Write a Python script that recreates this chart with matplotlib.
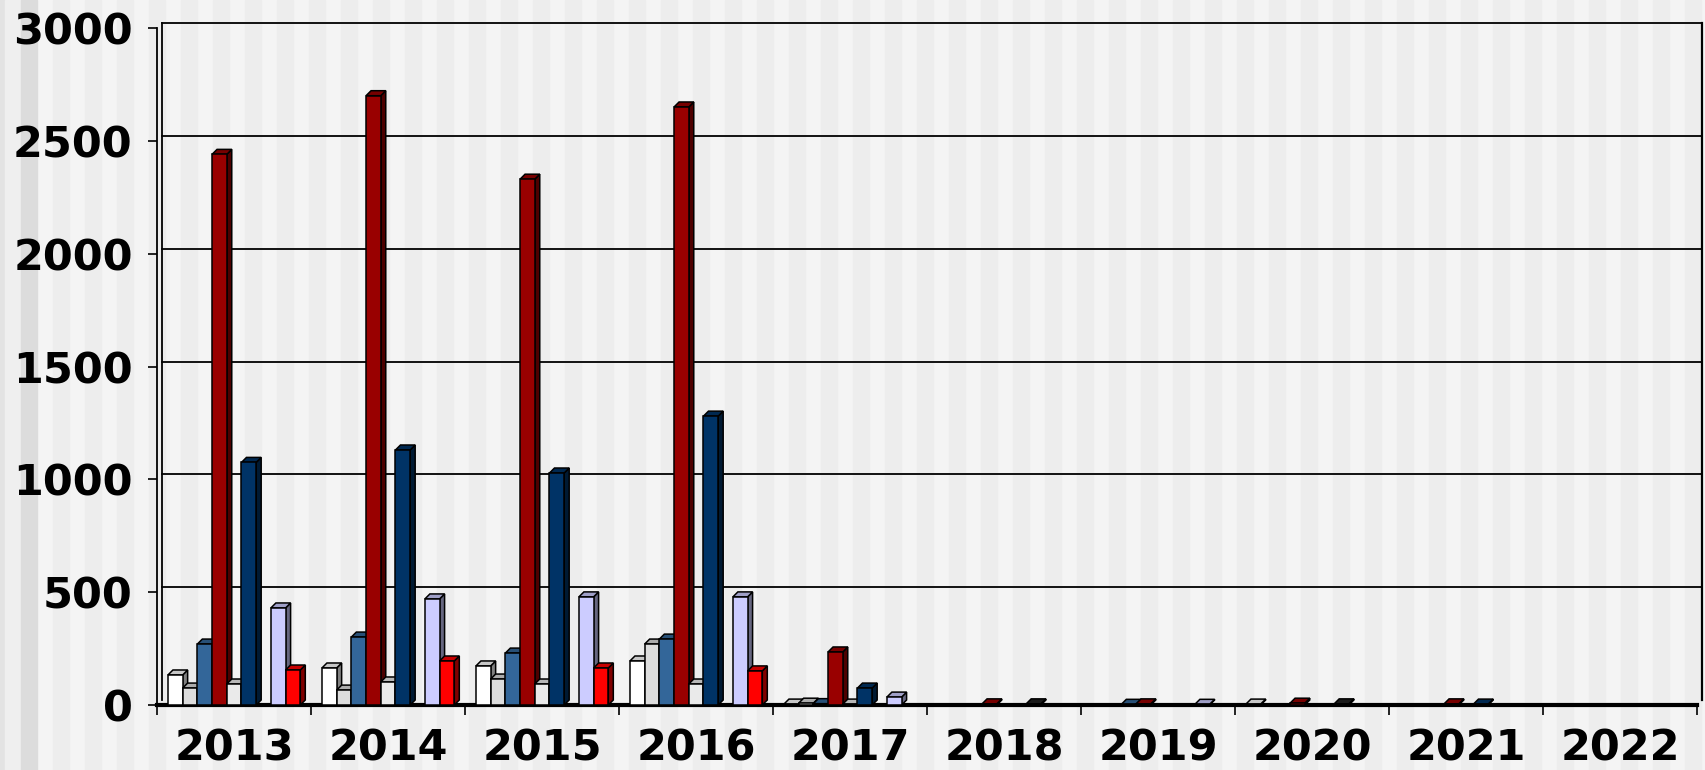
import matplotlib
matplotlib.use('Agg')
import matplotlib.pyplot as plt
import matplotlib.colors as mcolors
from matplotlib.patches import Polygon, Rectangle
from matplotlib.transforms import ScaledTranslation
import numpy as np

# data (10 years, 9 series per year)
years = ['2013', '2014', '2015', '2016', '2017', '2018', '2019', '2020', '2021', '2022']
s_white    = [133, 164, 173, 195, 4, 0, 0, 4, 0, 0]
s_lgray    = [75, 66, 115, 270, 8, 0, 0, 0, 0, 0]
s_steel    = [270, 301, 230, 292, 6, 0, 3, 0, 0, 0]
s_darkred  = [2440, 2700, 2330, 2650, 235, 5, 5, 8, 5, 0]
s_lgray2   = [93, 102, 93, 93, 4, 0, 0, 0, 0, 0]
s_navy     = [1075, 1130, 1028, 1280, 75, 0, 0, 0, 4, 0]
s_black    = [0, 0, 0, 0, 0, 5, 0, 5, 0, 0]
s_lavender = [430, 470, 479, 479, 35, 0, 3, 0, 0, 0]
s_red      = [155, 195, 164, 151, 0, 0, 0, 0, 0, 0]

series = [s_white, s_lgray, s_steel, s_darkred, s_lgray2, s_navy, s_black, s_lavender, s_red]
colors = ['#ffffff', '#dddddd', '#336699', '#990000', '#eaeaea', '#003366', '#222222', '#ccccff', '#ff0000']

W, H = 1705, 770
fig = plt.figure(figsize=(W / 100, H / 100), dpi=100)
fig.patch.set_facecolor('#f4f4f4')

# striped slide background
fig.add_artist(Rectangle((0, 0), 5 / W, 1, transform=fig.transFigure, color='#e3e3e3', zorder=-10))
fig.add_artist(Rectangle((5 / W, 0), 16 / W, 1, transform=fig.transFigure, color='#efefef', zorder=-10))
fig.add_artist(Rectangle((21 / W, 0), 16 / W, 1, transform=fig.transFigure, color='#dcdcdc', zorder=-10))
for xs in range(53, W, 32):
    fig.add_artist(Rectangle((xs / W, 0), 16 / W, 1, transform=fig.transFigure,
                             color='#ededed', zorder=-10))

ax = fig.add_axes([157 / W, 65 / H, 1540 / W, 677 / H])
ax.patch.set_alpha(0)
ax.set_xlim(0, len(years))
ax.set_ylim(0, 3000)

depth = 5  # px
inv = ax.transData.inverted()
p0 = ax.transData.transform((0, 0))
dx, dy = inv.transform(p0 + np.array([depth, depth]))

n = len(series)
bw = 0.0955
start = 0.071
lw = 1.1


def shade(c, f):
    r, g, b = mcolors.to_rgb(c)
    return (r * f, g * f, b * f)


for gi in range(len(years)):
    for j, (vals, col) in enumerate(zip(series, colors)):
        h = vals[gi]
        if h <= 0:
            continue
        x0 = gi + start + j * bw
        z = 3 + (gi * n + j) * 0.01
        side = Polygon([(x0 + bw, 0), (x0 + bw + dx, dy), (x0 + bw + dx, h + dy), (x0 + bw, h)],
                       closed=True, fc=shade(col, 0.5), ec='black', lw=lw, zorder=z)
        top = Polygon([(x0, h), (x0 + bw, h), (x0 + bw + dx, h + dy), (x0 + dx, h + dy)],
                      closed=True, fc=shade(col, 0.78), ec='black', lw=lw, zorder=z)
        ax.add_patch(side)
        ax.add_patch(top)
        ax.bar(x0, h, width=bw, align='edge', color=col, edgecolor='black',
               linewidth=lw, zorder=z + 0.005)

# back wall gridlines and edges
off = ScaledTranslation(depth / 100, depth / 100, fig.dpi_scale_trans)
for yv in [500, 1000, 1500, 2000, 2500, 3000]:
    ax.plot([0, 1], [yv, yv], transform=ax.get_yaxis_transform() + off,
            color='black', lw=1.3, zorder=1, clip_on=False)
ax.plot([0, 0], [0, 3000], transform=ax.transData + off,
        color='black', lw=1.3, zorder=1, clip_on=False)
ax.plot([len(years), len(years)], [0, 3000], transform=ax.transData + off,
        color='black', lw=1.6, zorder=1, clip_on=False)

for s in ['top', 'right']:
    ax.spines[s].set_visible(False)
ax.spines['left'].set_linewidth(1.3)
ax.spines['bottom'].set_linewidth(3)
ax.spines['bottom'].set_zorder(2.5)

ax.set_yticks([0, 500, 1000, 1500, 2000, 2500, 3000])
ax.tick_params(axis='y', length=6.5, width=1.2, pad=11, labelsize=31)
ax.set_xticks(range(len(years) + 1))
ax.set_xticklabels([])
ax.set_xticks(np.arange(len(years)) + 0.5, minor=True)
ax.set_xticklabels(years, minor=True)
ax.tick_params(axis='x', which='major', length=7.5, width=1.2)
ax.tick_params(axis='x', which='minor', length=0, pad=16, labelsize=31)
for lab in ax.get_yticklabels() + ax.get_xticklabels(minor=True):
    lab.set_fontweight('bold')

fig.savefig('out.png', dpi=100, facecolor=fig.get_facecolor())
